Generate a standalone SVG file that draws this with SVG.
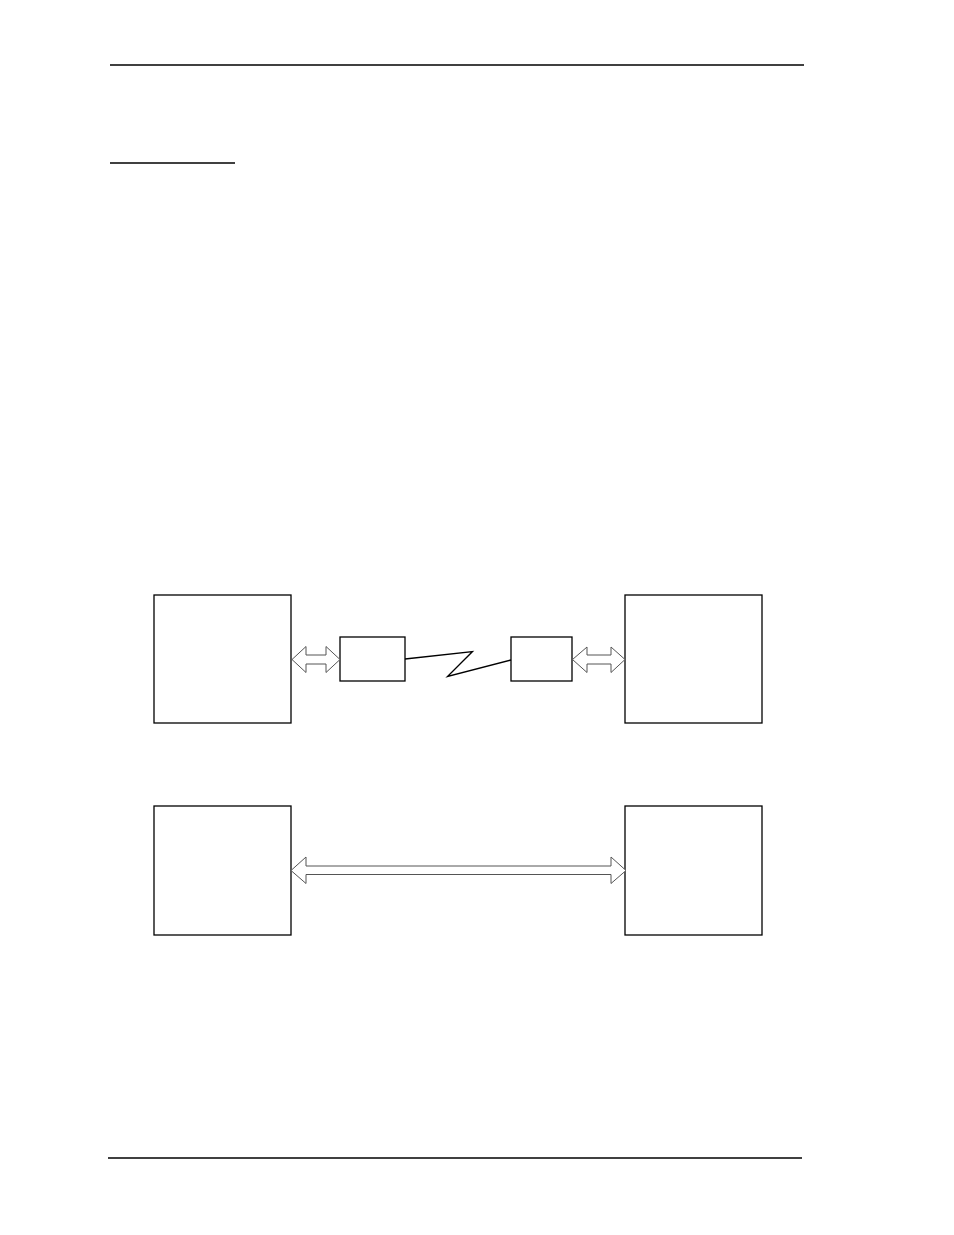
<svg xmlns="http://www.w3.org/2000/svg" width="954" height="1235" viewBox="0 0 954 1235">
<style>
.rule{stroke:#000;stroke-width:1.4;fill:none}
.box{fill:#fff;stroke:#000;stroke-width:1.3}
.arrow{fill:#fff;stroke:#555;stroke-width:1}
.link{fill:none;stroke:#000;stroke-width:1.3;stroke-linejoin:miter}
</style>
<rect width="954" height="1235" fill="#fff"/>
<line class="rule" x1="110" y1="65" x2="804" y2="65"/>
<line class="rule" x1="110" y1="163" x2="235" y2="163"/>
<line class="rule" x1="108" y1="1158" x2="802" y2="1158"/>
<g id="hostA"><rect class="box" x="154" y="595" width="137" height="128"/></g>
<g id="hostB"><rect class="box" x="625" y="595" width="137" height="128"/></g>
<g id="modemA"><rect class="box" x="340" y="637" width="65" height="44"/></g>
<g id="modemB"><rect class="box" x="511" y="637" width="61" height="44"/></g>
<g id="hostC"><rect class="box" x="154" y="806" width="137" height="129"/></g>
<g id="hostD"><rect class="box" x="625" y="806" width="137" height="129"/></g>
<g id="connectors">
<polygon class="arrow" points="292,659.5 306,646.5 306,655 326,655 326,646.5 340,659.5 326,672.5 326,664 306,664 306,672.5"/>
<polygon class="arrow" points="572.5,659.5 587,647 587,655 611,655 611,647 625,659.5 611,672.5 611,664 587,664 587,672.5"/>
<polyline class="link" points="405,659 472.5,651.5 447.5,676.5 511,660"/>
<polygon class="arrow" points="291,870.5 306,857 306,866 611,866 611,857 626,870.5 611,883.5 611,874.5 306,874.5 306,883.5"/>
</g>
</svg>
